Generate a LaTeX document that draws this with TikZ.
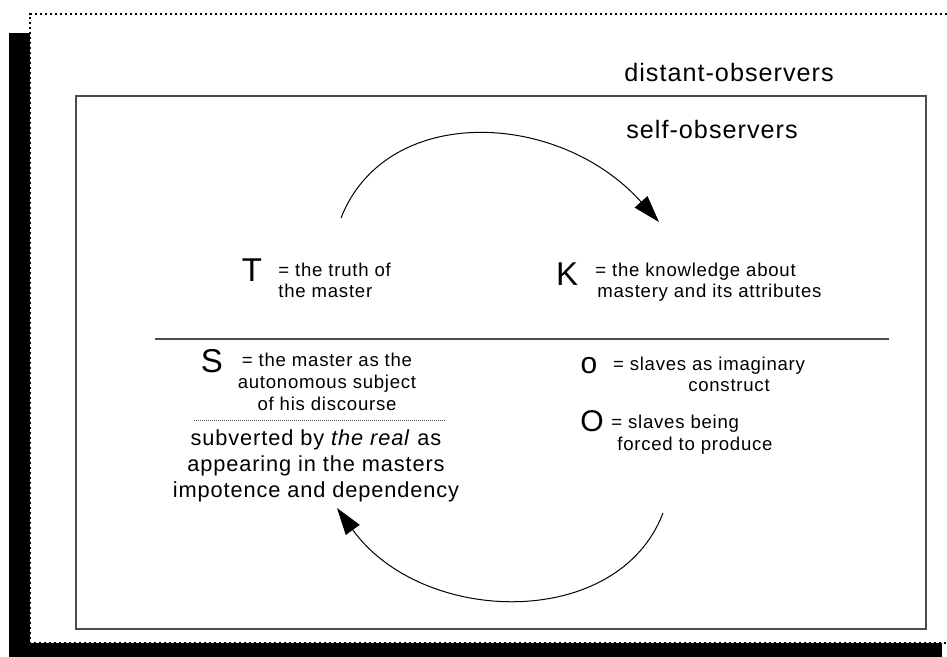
\documentclass[tikz,border=0pt]{standalone}
\usepackage{fontspec}
\setmainfont{Liberation Sans}[LetterSpace=4]
\usetikzlibrary{arrows.meta}

\colorlet{frame line}{black!70}
\tikzset{
  shadow/.style={fill=black},
  page/.style={draw=black, line width=1.2pt, dash pattern=on 1.2pt off 1.3pt},
  boxline/.style={draw=frame line, line width=0.75pt}
  }
\tikzstyle{heading} = [inner sep=0pt, font=\fontsize{12.6}{14}\selectfont]
\tikzstyle{symbol} = [inner sep=0pt, font=\fontsize{16.5}{18}\selectfont]
\tikzstyle{small symbol} = [inner sep=0pt, font=\fontsize{15}{18}\selectfont]
\tikzstyle{gloss} = [inner sep=0pt, align=left, font=\fontsize{9.3}{10.8}\selectfont]
\tikzstyle{remark} = [inner sep=0pt, align=center, font=\fontsize{10.9}{13}\selectfont]
\tikzstyle{turn} = [draw, line width=0.5pt, -{Triangle[length=13.5pt, width=8.5pt]}]

\begin{document}
\begin{tikzpicture}[x=0.5pt, y=-0.5pt]

    \useasboundingbox (0,0) rectangle (947,657);

    % the sheet with its shadow
    \fill[shadow] (9,33) rectangle (942,657);
    \fill[white] (30,14) rectangle (952,643);
    \draw[page] (952,14) -- (30,14) -- (30,643) -- (952,643);

    % the two observer frames
    \draw[boxline] (76,96) rectangle (926,629);
    \node[heading] (distant) at (729,72) {distant-observers};
    \node[heading] (self) at (712,129) {self-observers};

    % the bar of the discourse
    \draw[boxline] (155,339) -- (889,339);

    % upper terms (glosses sit on the baseline of their last line)
    \node[symbol] (T) at (252,270) {T};
    \node[gloss, anchor=base west] (truth) at (278,298) {= the truth of\\the master};
    \node[symbol] (K) at (567,274) {K};
    \node[gloss, anchor=base west] (knowledge) at (595,298) {= the knowledge about\\\hspace{1pt}mastery and its attributes};

    % lower terms
    \node[symbol] (S) at (212,361) {S};
    \node[gloss, align=center, anchor=base] (subject) at (327,410) {= the master as the\\autonomous subject\\of his discourse};
    \draw[frame line, line width=0.5pt, dash pattern=on 0.5pt off 0.5pt] (194,420) -- (445,420);
    \node[remark, anchor=base] (real) at (316,497) {subverted by \textit{the real} as\\appearing in the masters\\impotence and dependency};

    \node[small symbol] (o) at (589,366) {o};
    \node[gloss, align=center, anchor=base] (imaginary) at (709,392) {= slaves as imaginary\\\hspace{20pt}construct};
    \node[small symbol] (O) at (592,421) {O};
    \node[gloss, anchor=base west] (forced) at (611,450) {= slaves being\\\hspace{3pt}forced to produce};

    % the turning of the discourse
    \coordinate (arc T) at (341,218);
    \coordinate (arc K) at (659,222);
    \coordinate (arc O) at (663,513);
    \coordinate (arc S) at (337,508);
    \path[turn] (arc T) .. controls +(45,-115) and +(-100,-112) .. (arc K);
    \path[turn] (arc O) .. controls +(-45,118) and +(85,118) .. (arc S);

\end{tikzpicture}
\end{document}
